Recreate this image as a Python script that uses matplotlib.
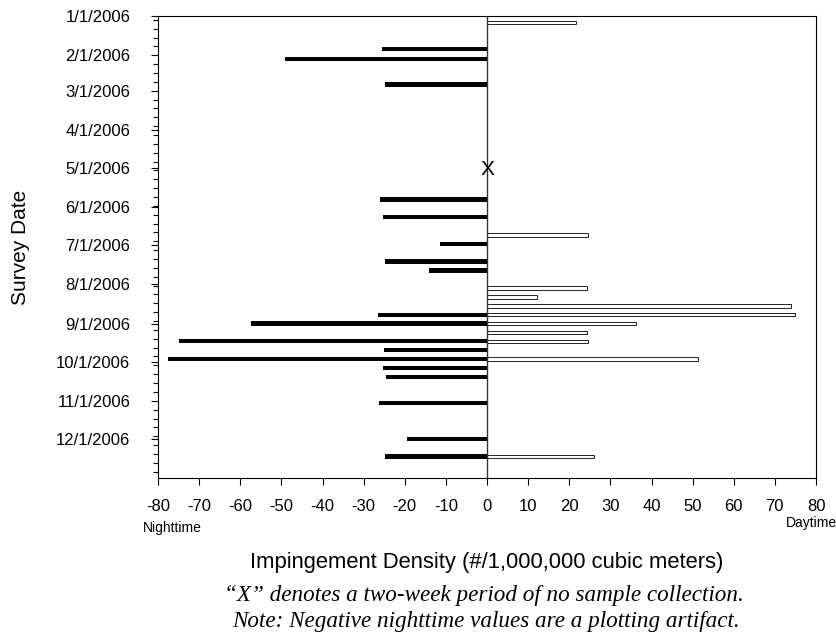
#!/usr/bin/env python3

from datetime import datetime
import matplotlib
matplotlib.use("Agg")
import matplotlib.pyplot as plt
import matplotlib.dates as mdates

# survey dates and densities
night_dates = ["2006-01-27", "2006-02-04", "2006-02-24", "2006-05-26", "2006-06-09",
               "2006-06-30", "2006-07-14", "2006-07-21", "2006-08-25", "2006-09-01",
               "2006-09-15", "2006-09-22", "2006-09-29", "2006-10-06", "2006-10-13",
               "2006-11-03", "2006-12-01", "2006-12-15"]
night_density = [25.5, 49.0, 24.7, 26.0, 25.3, 11.5, 24.8, 14.1, 26.5, 57.4,
                 74.9, 25.0, 77.5, 25.4, 24.6, 26.3, 19.5, 24.9]

day_dates = ["2006-01-06", "2006-06-23", "2006-08-04", "2006-08-11", "2006-08-18",
             "2006-08-25", "2006-09-01", "2006-09-08", "2006-09-15", "2006-09-29",
             "2006-12-15"]
day_density = [21.7, 24.6, 24.2, 12.2, 74.0, 74.8, 36.2, 24.2, 24.6, 51.4, 26.1]

gap_date = "2006-05-02"  # the "X" (no samples for two weeks)

month_labels = ["1/1/2006", "2/1/2006", "3/1/2006", "4/1/2006", "5/1/2006", "6/1/2006",
                "7/1/2006", "8/1/2006", "9/1/2006", "10/1/2006", "11/1/2006", "12/1/2006"]
x_ticks = [-80, -70, -60, -50, -40, -30, -20, -10, 0, 10, 20, 30, 40, 50, 60, 70, 80]


def to_num(dates, fmt="%Y-%m-%d"):
    return mdates.date2num([datetime.strptime(d, fmt) for d in dates])


def main():
    plt.rcParams["font.family"] = ["Liberation Sans", "DejaVu Sans"]

    W, H = 836, 644
    fig = plt.figure(figsize=(W / 100, H / 100), dpi=100)
    ax = fig.add_axes([158 / W, (H - 478) / H, 658 / W, 462 / H])

    # nighttime is plotted to the left (negative), daytime to the right
    ax.barh(to_num(night_dates), [-v for v in night_density], height=3.4,
            color="black", linewidth=0)
    ax.barh(to_num(day_dates), day_density, height=2.8,
            color="white", edgecolor="black", linewidth=0.6)
    ax.axvline(0, color="#333333", linewidth=1.0)
    ax.text(0, to_num([gap_date])[0], "X", ha="center", va="center", fontsize=15)

    ax.set_xlim(-80, 80)
    ax.set_xticks(x_ticks, labels=[str(t) for t in x_ticks])

    ax.set_ylim(mdates.date2num(datetime(2007, 1, 1)), mdates.date2num(datetime(2006, 1, 1)))
    ax.set_yticks(to_num(month_labels, "%m/%d/%Y"), labels=month_labels)
    ax.yaxis.set_minor_locator(mdates.WeekdayLocator(byweekday=mdates.WE))

    ax.tick_params(axis="x", which="major", direction="out", length=5, width=0.8,
                   pad=10, labelsize=12)
    ax.tick_params(axis="y", which="major", direction="out", length=5, width=0.8,
                   pad=15, labelsize=12)
    ax.tick_params(axis="y", which="minor", direction="out", length=3.4, width=0.8)

    ax.set_xlabel("Impingement Density (#/1,000,000 cubic meters)", fontsize=15.8)
    ax.xaxis.set_label_coords(0.5, (478 - 568) / 462)
    ax.xaxis.label.set_va("baseline")
    ax.set_ylabel("Survey Date", fontsize=15)
    ax.yaxis.set_label_coords((21 - 158) / 658, 0.5)
    ax.yaxis.label.set_va("center")

    fig.text(172 / W, 1 - 528 / H, "Nighttime", ha="center", va="center", fontsize=10)
    fig.text(786 / W, 1 - 523.5 / H, "Daytime", ha="left", va="center", fontsize=10)

    note_font = dict(family=["Liberation Serif", "DejaVu Serif"], style="italic",
                     fontsize=16.7, ha="center", va="baseline")
    fig.text(484 / W, 1 - 601 / H, "\u201cX\u201d denotes a two-week period of no sample collection.",
             **note_font)
    fig.text(486 / W, 1 - 627 / H, "Note: Negative nighttime values are a plotting artifact.",
             **note_font)

    fig.savefig("out.png", dpi=100)
    plt.close(fig)


if __name__ == "__main__":
    main()
